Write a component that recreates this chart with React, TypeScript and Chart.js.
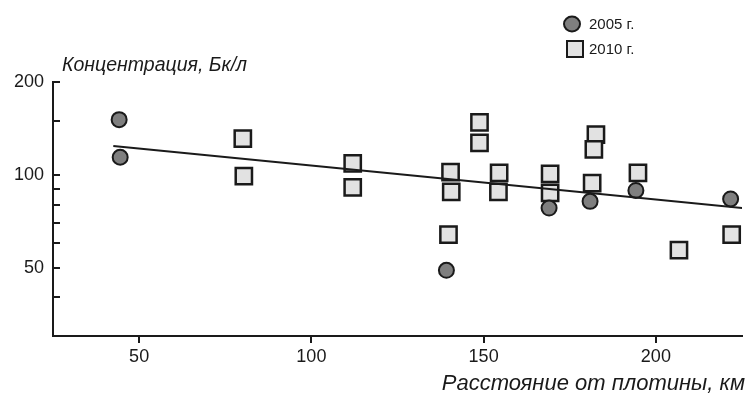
import React, { useEffect, useRef } from 'react';
import { Chart, registerables } from 'chart.js';

Chart.register(...registerables);

// ---- data ----
const series2005X = [44.2, 44.5, 139.2, 169, 180.9, 194.2, 221.7];
const series2005Y = [151, 114, 49, 78, 82, 89, 83.5];
const series2010X = [80.1, 80.4, 112, 112, 148.8, 148.8, 140.4, 140.6, 139.8, 154.5, 154.3, 169.3, 169.3, 182.6, 182, 181.5, 194.8, 206.7, 222];
const series2010Y = [131, 99, 109, 91, 148, 127, 102, 88, 64, 101.5, 88, 100.7, 87.4, 135, 121, 94, 101.5, 57, 64];
const trendX = [42.5, 225.2];
const trendY = [124, 78];
const xTickValues = [50, 100, 150, 200];
const yTickValues = [40, 50, 60, 70, 80, 90, 100, 150, 200];
const yLabelledTicks = [50, 100, 200];
const legendLabels = ['2005 г.', '2010 г.'];
const yTitle = 'Концентрация, Бк/л';
const xTitle = 'Расстояние от плотины, км';

const FONT = '"Liberation Sans", Arial, sans-serif';
const INK = '#1a1a1a';

const decorPlugin = {
  id: 'decor',
  afterDraw(chart: any) {
    const ctx = chart.ctx;
    const ys = chart.scales.y;
    const area = chart.chartArea;
    ctx.save();
    // inward y ticks
    ctx.strokeStyle = INK;
    ctx.lineWidth = 2;
    ys.ticks.forEach((t: any) => {
      const py = Math.round(ys.getPixelForValue(t.value));
      ctx.beginPath();
      ctx.moveTo(area.left, py);
      ctx.lineTo(area.left + 7, py);
      ctx.stroke();
    });
    ctx.fillStyle = INK;
    ctx.textBaseline = 'middle';
    // y title (horizontal, above the axis)
    ctx.font = `italic 19.5px ${FONT}`;
    ctx.textAlign = 'left';
    ctx.fillText(yTitle, area.left + 9, area.top - 16);
    // x title (right aligned, below the axis)
    ctx.font = `italic 22px ${FONT}`;
    ctx.textAlign = 'right';
    ctx.fillText(xTitle, area.right + 3, area.bottom + 48);

    // legend
    const ds = chart.data.datasets;
    const lx = area.right - 170;
    const rows = [24, 49];
    ctx.font = `15px ${FONT}`;
    [0, 1].forEach((i) => {
      const d = ds[i];
      const cy = rows[i];
      ctx.beginPath();
      if (d.pointStyle === 'circle') {
        ctx.ellipse(lx, cy, 8, 7.5, 0, 0, Math.PI * 2);
      } else {
        ctx.rect(lx + 3 - 8, cy - 8, 16, 16);
      }
      ctx.fillStyle = d.backgroundColor;
      ctx.fill();
      ctx.lineWidth = 2;
      ctx.strokeStyle = d.borderColor;
      ctx.stroke();
      ctx.fillStyle = INK;
      ctx.textAlign = 'left';
      ctx.textBaseline = 'middle';
      ctx.fillText(legendLabels[i], lx + 17, cy + 1);
    });
    ctx.restore();
  },
};

export default function App() {
  const ref = useRef<HTMLCanvasElement | null>(null);

  useEffect(() => {
    document.body.style.margin = '0';
    const canvas = ref.current;
    if (!canvas) return;
    const chart = new Chart(canvas, {
      type: 'scatter',
      data: {
        datasets: [
          {
            label: legendLabels[0],
            data: series2005X.map((x, i) => ({ x, y: series2005Y[i] })),
            pointStyle: 'circle',
            pointRadius: 7.5,
            backgroundColor: '#7f7f7f',
            borderColor: INK,
            borderWidth: 2,
            order: 2,
          },
          {
            label: legendLabels[1],
            data: series2010X.map((x, i) => ({ x, y: series2010Y[i] })),
            pointStyle: 'rect',
            pointRadius: 11.5,
            backgroundColor: '#e2e2e2',
            borderColor: INK,
            borderWidth: 2.5,
            order: 2,
          },
          {
            type: 'line',
            label: 'trend',
            data: trendX.map((x, i) => ({ x, y: trendY[i] })),
            showLine: true,
            pointRadius: 0,
            borderColor: INK,
            borderWidth: 2,
            fill: false,
            order: 1,
          } as any,
        ],
      },
      options: {
        animation: false,
        responsive: false,
        maintainAspectRatio: false,
        layout: { autoPadding: false, padding: { left: 0, right: 5, top: 82, bottom: 0 } },
        plugins: {
          legend: { display: false },
          tooltip: { enabled: false },
        },
        scales: {
          x: {
            type: 'linear',
            min: 25,
            max: 225,
            afterBuildTicks: (s: any) => {
              s.ticks = xTickValues.map((v) => ({ value: v }));
            },
            afterFit: (s: any) => {
              s.height = 60;
              s.paddingLeft = 0;
              s.paddingRight = 0;
            },
            grid: {
              display: true,
              drawOnChartArea: false,
              drawTicks: true,
              tickLength: 7,
              tickWidth: 2,
              tickColor: INK,
              lineWidth: 2,
              color: INK,
            },
            border: { display: true, color: INK, width: 2 },
            ticks: {
              autoSkip: false,
              maxRotation: 0,
              padding: 3,
              color: INK,
              font: { family: FONT, size: 18 },
              callback: (v: any) => String(v),
            },
            title: { display: false },
          },
          y: {
            type: 'logarithmic',
            min: 30,
            max: 200,
            afterBuildTicks: (s: any) => {
              s.ticks = yTickValues.map((v) => ({ value: v }));
            },
            afterFit: (s: any) => {
              s.width = 53;
            },
            grid: { display: false, drawTicks: false },
            border: { display: true, color: INK, width: 2 },
            ticks: {
              autoSkip: false,
              padding: 9,
              color: INK,
              font: { family: FONT, size: 18 },
              callback: (v: any) => (yLabelledTicks.includes(Number(v)) ? String(v) : ''),
            },
          },
        },
      },
      plugins: [decorPlugin],
    });
    return () => chart.destroy();
  }, []);

  return (
    <div style={{ position: 'relative', width: 747, height: 396 }}>
      <canvas ref={ref} width={747} height={396} />
    </div>
  );
}
